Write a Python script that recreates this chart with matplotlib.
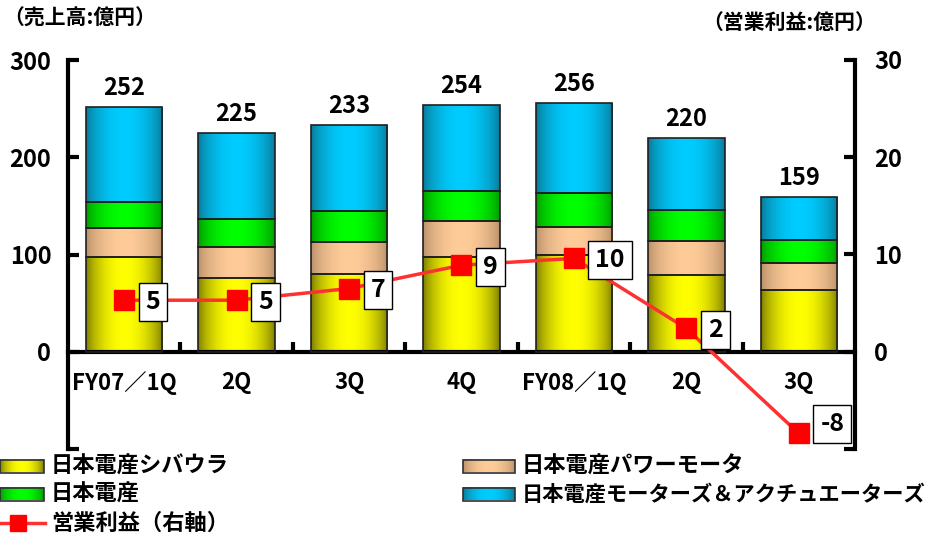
import numpy as np
import matplotlib
matplotlib.use("Agg")
import matplotlib.pyplot as plt

plt.rcParams['font.family'] = ['Noto Sans CJK JP', 'DejaVu Sans']
plt.rcParams['font.weight'] = 'bold'

# data
quarters = ['FY07／1Q', '2Q', '3Q', '4Q', 'FY08／1Q', '2Q', '3Q']
shibaura = [97, 76, 80, 97, 99, 79, 64]
power_motor = [30, 32, 33, 37, 29, 35, 27]
nidec = [27, 28, 32, 31, 35, 32, 24]
motors_act = [98, 89, 88, 89, 93, 74, 44]
op_profit = [5.3, 5.3, 6.5, 8.9, 9.6, 2.4, -8.4]
op_labels = ['5', '5', '7', '9', '10', '2', '-8']

series_names = ['日本電産シバウラ', '日本電産パワーモータ', '日本電産',
                '日本電産モーターズ＆アクチュエーターズ']
# (edge, center) colours for the cylinder-like gradient
grad_cols = [('#7a7a00', '#ffff00'),
             ('#b98f68', '#ffcc99'),
             ('#009a00', '#00ff00'),
             ('#0a7896', '#00ccff')]
line_color = '#ff3030'


def gradient(edge, center, n=64):
    e = np.array(matplotlib.colors.to_rgb(edge))
    c = np.array(matplotlib.colors.to_rgb(center))
    t = np.linspace(0, 1, n)
    w = np.sin(np.pi * t) ** 0.7
    return (e + (c - e) * w[:, None])[None, :, :]


fig = plt.figure(figsize=(9.27, 5.4), dpi=100)
ax = fig.add_axes([68 / 927, 1 - 449 / 540, (855 - 68) / 927, (449 - 60) / 540])

x = np.arange(len(quarters))
width = 0.68
bottom = np.zeros(len(quarters))
for vals, (ec, cc) in zip([shibaura, power_motor, nidec, motors_act], grad_cols):
    bars = ax.bar(x, vals, width, bottom=bottom, facecolor='none',
                  edgecolor='#202020', linewidth=1.2, zorder=3)
    img = gradient(ec, cc)
    for b in bars:
        im = ax.imshow(img, extent=[b.get_x(), b.get_x() + b.get_width(),
                                    b.get_y(), b.get_y() + b.get_height()],
                       aspect='auto', zorder=2, interpolation='bilinear')
        im.set_clip_path(b)
    bottom += np.array(vals)

for xi, tot in zip(x, bottom):
    ax.annotate('%d' % tot, (xi, tot), xytext=(0, 5), textcoords='offset points',
                ha='center', va='bottom', fontsize=17)

ax.set_xlim(-0.5, len(quarters) - 0.5)
ax.set_ylim(-100, 300)
ax.set_yticks([-100, 0, 100, 200, 300])
ax.set_yticklabels(['', '0', '100', '200', '300'])
ax.set_xticks(x)
ax.set_xticklabels(quarters)
ax.set_xticks(x[:-1] + 0.5, minor=True)
ax.tick_params(axis='x', which='major', length=0, pad=14, labelsize=16)
ax.tick_params(axis='x', which='minor', direction='in', length=7, width=3)
ax.tick_params(axis='y', direction='in', length=8, width=3, pad=12, labelsize=17)
ax.spines['bottom'].set_position(('data', 0))
ax.spines['bottom'].set_linewidth(3)
ax.spines['left'].set_linewidth(3)
ax.spines['top'].set_visible(False)
ax.spines['right'].set_visible(False)

ax2 = ax.twinx()
ax2.set_ylim(-10, 30)
ax2.set_yticks([-10, 0, 10, 20, 30])
ax2.set_yticklabels(['', '0', '10', '20', '30'])
ax2.tick_params(axis='y', direction='in', length=8, width=3, pad=14, labelsize=17)
for s in ['top', 'bottom', 'left']:
    ax2.spines[s].set_visible(False)
ax2.spines['right'].set_linewidth(3)
ax2.plot(x, op_profit, color=line_color, lw=2.5, marker='s', markersize=15,
         markerfacecolor='red', markeredgecolor='red', zorder=5)
for xi, v, lab in zip(x, op_profit, op_labels):
    dy = 7 if v < 0 else -1
    ax2.annotate(lab, (xi, v), xytext=(15.5, dy), textcoords='offset points',
                 ha='left', va='center', fontsize=18, zorder=6,
                 bbox=dict(boxstyle='square,pad=0.28', fc='white', ec='black', lw=1))

fig.text(3 / 927, 1 - 18 / 540, '（売上高:億円）', fontsize=15, va='center', ha='left')
fig.text(876 / 927, 1 - 22 / 540, '（営業利益:億円）', fontsize=15, va='center', ha='right')

# legend drawn in pixel coordinates of the figure
lg = fig.add_axes([0, 0, 1, 1], zorder=10)
lg.axis('off')
slots = [(0, 44, 466), (463, 515, 466), (0, 44, 494), (463, 515, 494)]
sizes = [16, 16, 16, 15.3]
for k, (x0, x1, yc) in enumerate(slots):
    ec, cc = grad_cols[k]
    lg.imshow(gradient(ec, cc), extent=[x0, x1, yc + 6.5, yc - 6.5], aspect='auto',
              interpolation='bilinear')
    lg.add_patch(plt.Rectangle((x0, yc - 6.5), x1 - x0, 13, fill=False,
                               ec='#303030', lw=1.2))
    lg.text(x1 + 7, yc, series_names[k], fontsize=sizes[k], va='center', ha='left')
lg.plot([0, 45], [523, 523], color=line_color, lw=2.5)
lg.plot([18], [523], marker='s', markersize=12, color='red')
lg.text(51, 523, '営業利益（右軸）', fontsize=16, va='center', ha='left')
lg.set_xlim(0, 927)
lg.set_ylim(540, 0)

fig.savefig('out.png', dpi=100)
